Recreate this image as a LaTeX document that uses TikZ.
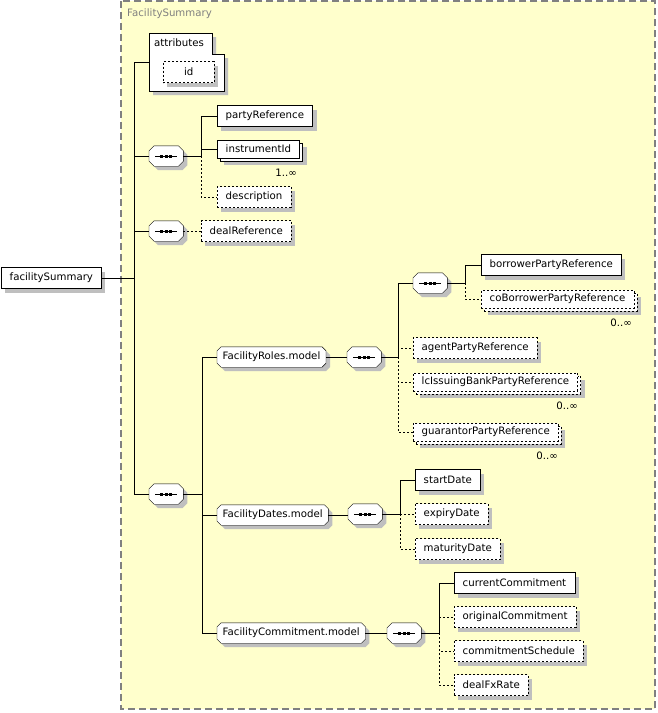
\documentclass[tikz,border=0pt]{standalone}
\usepackage{fontspec}
\setmainfont{DejaVu Sans}
\usetikzlibrary{shadows}
\definecolor{bgyellow}{RGB}{255,255,204}
\definecolor{framegray}{RGB}{128,128,128}
\pgfdeclarelayer{frame}
\pgfdeclarelayer{shapes}
\pgfsetlayers{frame,shapes,main}
% octagon round a node, #2 = size of the cut corners
\newcommand\octpath[2]{([xshift=#2]#1.north west) -- ([xshift=-#2]#1.north east)
  -- ([yshift=-#2]#1.north east) -- ([yshift=#2]#1.south east) -- ([xshift=-#2]#1.south east)
  -- ([xshift=#2]#1.south west) -- ([yshift=#2]#1.south west) -- ([yshift=-#2]#1.north west) -- cycle}
\tikzset{
  elem/.style={draw, fill=white, anchor=west, minimum height=21pt, inner xsep=8.5pt, inner ysep=0pt,
    drop shadow={shadow xshift=4pt, shadow yshift=-4pt, fill=black!25, opacity=1}},
  optelem/.style={elem, dash pattern=on 2pt off 2pt},
  multielem/.style={draw, fill=white, anchor=west, minimum height=18pt, inner xsep=8.5pt, inner ysep=0pt,
    drop shadow={shadow xshift=7pt, shadow yshift=-7pt, fill=black!25, opacity=1},
    copy shadow={shadow xshift=3pt, shadow yshift=-3pt}},
  optmulti/.style={multielem, dash pattern=on 2pt off 2pt},
  seqbox/.style={anchor=west, minimum width=34pt, minimum height=20pt, inner sep=0pt},
  grp/.style={anchor=west, minimum height=20pt, inner xsep=5.5pt, inner ysep=0pt},
  shadowfill/.style={fill=black!25, transform canvas={shift={(4pt,-4pt)}}},
  optline/.style={dash pattern=on 2pt off 2pt},
  mult/.style={anchor=east, inner sep=0pt},
}
\begin{document}
\begin{tikzpicture}[x=1pt, y=-1pt, font=\fontsize{10.2}{12}\selectfont]
\useasboundingbox (0,0) rectangle (657,713);
% type frame
\begin{pgfonlayer}{frame}
\draw[framegray, line width=1.5pt, dash pattern=on 7pt off 4pt, fill=bgyellow] (121,1) rectangle (655,709);
\end{pgfonlayer}
\node[anchor=west, text=framegray, inner sep=0pt] (typename) at (127,14) {FacilitySummary};

% root element
\node[elem] (fs) at (1,278) {facilitySummary};

% attributes
\fill[shadowfill] (149,33) -- (212,33) -- (212,54) -- (224,54) -- (224,91) -- (149,91) -- cycle;
\draw[fill=white] (149,33) -- (212,33) -- (212,54) -- (224,54) -- (224,91) -- (149,91) -- cycle;
\node[anchor=west, inner sep=0pt] (attrlabel) at (154,43) {attributes};
\coordinate (attr) at (149,62);
\node[optelem, minimum width=51pt] (id) at (163,72) {id};

% sequences under the type
\node[seqbox] (seqA) at (149,156) {};
\node[seqbox] (seqB) at (149,231) {};
\node[seqbox] (seqC) at (149,494) {};

\node[elem] (party) at (217,116) {partyReference};
\node[multielem] (instr) at (217,149) {instrumentId};
\node[mult] (mInstr) at (297,173) {1..∞};
\node[optelem] (desc) at (217,197) {description};
\node[optelem] (deal) at (201,231) {dealReference};

% groups
\node[grp] (roles) at (217,357) {FacilityRoles.model};
\node[grp] (dates) at (217,515) {FacilityDates.model};
\node[grp] (commit) at (217,633) {FacilityCommitment.model};

% FacilityRoles.model
\node[seqbox] (seqR) at (347,357) {};
\node[seqbox] (seqRB) at (413,283) {};
\node[elem] (borrower) at (481,265) {borrowerPartyReference};
\node[optmulti] (coborrower) at (481,299) {coBorrowerPartyReference};
\node[mult] (mCo) at (632,323) {0..∞};
\node[optelem] (agent) at (413,348) {agentPartyReference};
\node[optmulti] (lcbank) at (413,382) {lcIssuingBankPartyReference};
\node[mult] (mLc) at (578,406) {0..∞};
\node[optmulti] (guarantor) at (413,432) {guarantorPartyReference};
\node[mult] (mGuar) at (558,456) {0..∞};

% FacilityDates.model
\node[seqbox] (seqD) at (348,514) {};
\node[elem] (start) at (415,480) {startDate};
\node[optelem] (expiry) at (415,514) {expiryDate};
\node[optelem] (maturity) at (415,549) {maturityDate};

% FacilityCommitment.model
\node[seqbox] (seqCm) at (387,633) {};
\node[elem] (current) at (454,583) {currentCommitment};
\node[optelem] (original) at (454,617) {originalCommitment};
\node[optelem] (schedule) at (454,651) {commitmentSchedule};
\node[optelem] (fxrate) at (454,685) {dealFxRate};

% octagons behind sequences and groups
\begin{pgfonlayer}{shapes}
\foreach \s/\c in {seqA/5pt,seqB/5pt,seqC/5pt,seqR/5pt,seqRB/5pt,seqD/5pt,seqCm/5pt,
                   roles/4pt,dates/4pt,commit/4pt} {
  \fill[shadowfill] \octpath{\s}{\c};
  \draw[fill=white] \octpath{\s}{\c};
}
\end{pgfonlayer}
% sequence symbols
\foreach \s in {seqA,seqB,seqC,seqR,seqRB,seqD,seqCm} {
  \draw (\s.center) ++(-11,0) -- ++(22,0);
  \foreach \d in {-4.5,0,4.5}
    \fill ([xshift=\d pt]\s.center) +(-1.5,-1.5) rectangle +(1.5,1.5);
}

% connectors
\coordinate (spine) at (134,278);
\draw (fs.east) -- (spine);
\draw (spine |- attr) -- (spine |- seqC.west);
\draw (spine |- attr) -- (attr);
\draw (spine |- seqA.west) -- (seqA.west);
\draw (spine |- seqB.west) -- (seqB.west);
\draw (spine |- seqC.west) -- (seqC.west);

\coordinate (brA) at (201,156);
\draw (seqA.east) -- (brA) |- (party.west);
\draw (brA) |- (instr.west);
\draw[optline] (brA) |- (desc.west);
\draw[optline] (seqB.east) -- (deal.west);

\coordinate (brC) at (202,494);
\draw (seqC.east) -- (brC) |- (roles.west);
\draw (brC) |- (dates.west);
\draw (brC) |- (commit.west);

\coordinate (brR) at (398,357);
\draw (roles.east) -- (seqR.west);
\draw (seqR.east) -- (brR) |- (seqRB.west);
\draw[optline] (brR) |- (agent.west);
\draw[optline] (brR) |- (lcbank.west);
\draw[optline] (brR) |- (guarantor.west);
\coordinate (brRB) at (465,283);
\draw (seqRB.east) -- (brRB) |- (borrower.west);
\draw[optline] (brRB) |- (coborrower.west);

\coordinate (brD) at (400,514);
\draw (dates.east) -- (dates.east -| seqD.west);
\draw (seqD.east) -- (brD) |- (start.west);
\draw[optline] (brD) -- (expiry.west);
\draw[optline] (brD) |- (maturity.west);

\coordinate (brCm) at (439,633);
\draw (commit.east) -- (seqCm.west);
\draw (seqCm.east) -- (brCm) |- (current.west);
\draw[optline] (brCm) |- (original.west);
\draw[optline] (brCm) |- (schedule.west);
\draw[optline] (brCm) |- (fxrate.west);
\end{tikzpicture}
\end{document}
